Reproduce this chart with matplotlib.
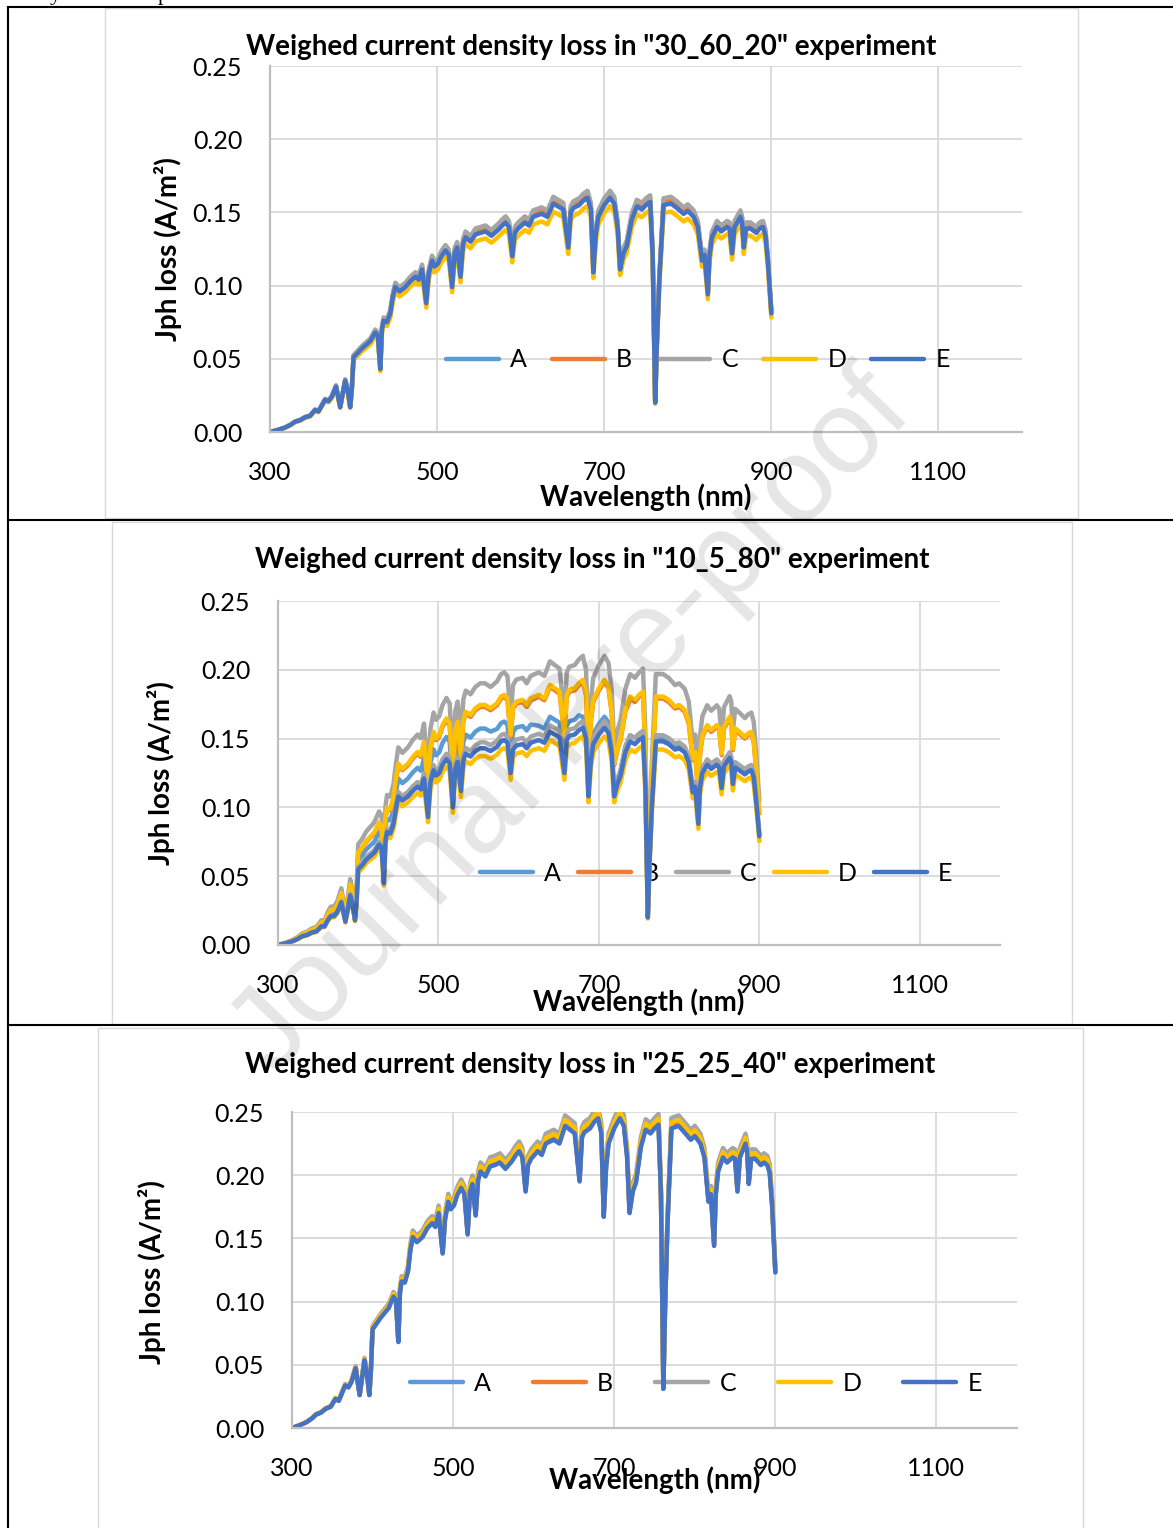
import matplotlib
matplotlib.use('Agg')
import matplotlib.pyplot as plt
import numpy as np
from matplotlib.patches import Rectangle
from matplotlib.lines import Line2D

W, H = 1173, 1528
plt.rcParams['font.family'] = ['Lato', 'DejaVu Sans']

# ---------------- data ----------------
wavelength = [300, 310, 318, 325, 330, 336, 342, 348, 354, 358,
              362, 366, 370, 374, 379, 384, 387, 390, 393, 396,
              398, 400, 405, 410, 414, 420, 426, 429, 432, 434,
              436, 440, 444, 447, 450, 455, 462, 468, 474, 478,
              482, 487, 490, 494, 497, 501, 505, 510, 514, 518,
              521, 524, 528, 531, 534, 540, 546, 552, 558, 565,
              573, 578, 582, 586, 590, 593, 597, 605, 610, 615,
              625, 632, 639, 645, 651, 657, 660, 663, 670, 675,
              680, 684, 687, 690, 693, 700, 707, 712, 716, 719,
              723, 727, 733, 739, 745, 750, 755, 758, 761, 763,
              766, 771, 780, 787, 795, 800, 807, 812, 817, 820,
              824, 826, 829, 835, 840, 847, 850, 853, 856, 863,
              865, 867, 870, 875, 882, 886, 890, 893, 896, 900]

e_30_60_20 = [0.000, 0.0015, 0.003, 0.005, 0.007, 0.008, 0.010, 0.011, 0.015, 0.014,
              0.018, 0.022, 0.021, 0.024, 0.031, 0.017, 0.026, 0.035, 0.028, 0.017,
              0.030, 0.051, 0.054, 0.057, 0.059, 0.062, 0.068, 0.066, 0.043, 0.070,
              0.076, 0.075, 0.081, 0.092, 0.099, 0.096, 0.099, 0.103, 0.106, 0.104,
              0.111, 0.088, 0.108, 0.117, 0.113, 0.115, 0.120, 0.124, 0.121, 0.099,
              0.122, 0.126, 0.106, 0.128, 0.133, 0.130, 0.135, 0.136, 0.137, 0.134,
              0.138, 0.141, 0.143, 0.140, 0.120, 0.136, 0.139, 0.143, 0.141, 0.147,
              0.149, 0.147, 0.156, 0.154, 0.152, 0.126, 0.150, 0.153, 0.155, 0.158,
              0.160, 0.152, 0.109, 0.135, 0.147, 0.155, 0.160, 0.156, 0.140, 0.111,
              0.122, 0.127, 0.145, 0.154, 0.152, 0.155, 0.157, 0.120, 0.020, 0.060,
              0.104, 0.155, 0.156, 0.153, 0.149, 0.151, 0.147, 0.140, 0.117, 0.121,
              0.094, 0.120, 0.133, 0.140, 0.137, 0.140, 0.139, 0.122, 0.140, 0.147,
              0.143, 0.126, 0.139, 0.139, 0.136, 0.139, 0.140, 0.134, 0.115, 0.081]

e_10_5_80 = [0.000, 0.0013, 0.0027, 0.0045, 0.0063, 0.0072, 0.009, 0.0099, 0.0135, 0.0135,
             0.018, 0.021, 0.021, 0.024, 0.031, 0.017, 0.026, 0.036, 0.029, 0.018,
             0.032, 0.055, 0.058, 0.062, 0.064, 0.067, 0.073, 0.071, 0.045, 0.076,
             0.082, 0.081, 0.088, 0.099, 0.108, 0.105, 0.108, 0.112, 0.115, 0.113,
             0.121, 0.093, 0.118, 0.127, 0.123, 0.125, 0.131, 0.135, 0.132, 0.100,
             0.128, 0.133, 0.112, 0.134, 0.139, 0.137, 0.141, 0.143, 0.143, 0.141,
             0.144, 0.148, 0.149, 0.147, 0.125, 0.142, 0.145, 0.146, 0.143, 0.147,
             0.149, 0.147, 0.155, 0.153, 0.151, 0.125, 0.149, 0.152, 0.153, 0.156,
             0.158, 0.150, 0.108, 0.134, 0.146, 0.153, 0.158, 0.154, 0.139, 0.108,
             0.117, 0.123, 0.140, 0.148, 0.146, 0.149, 0.151, 0.115, 0.020, 0.058,
             0.100, 0.148, 0.148, 0.146, 0.142, 0.143, 0.140, 0.133, 0.111, 0.115,
             0.088, 0.114, 0.125, 0.131, 0.128, 0.131, 0.129, 0.114, 0.130, 0.136,
             0.133, 0.117, 0.129, 0.127, 0.124, 0.126, 0.127, 0.122, 0.105, 0.079]

# series A of the "10_5_80" experiment (light blue band, merges with E above ~750 nm)
a_10_5_80 = [0.000, 0.0014, 0.0030, 0.0050, 0.0069, 0.0079, 0.0099, 0.0109, 0.0149, 0.0149,
             0.0198, 0.0231, 0.0231, 0.0264, 0.0341, 0.0187, 0.0286, 0.0396, 0.0319, 0.0198,
             0.0358, 0.0616, 0.0650, 0.0694, 0.0717, 0.0750, 0.0818, 0.0795, 0.0504, 0.0851,
             0.0918, 0.0907, 0.0986, 0.1109, 0.1210, 0.1176, 0.1210, 0.1254, 0.1288, 0.1266,
             0.1355, 0.1042, 0.1322, 0.1422, 0.1378, 0.1400, 0.1467, 0.1512, 0.1478, 0.1120,
             0.1408, 0.1463, 0.1232, 0.1474, 0.1529, 0.1507, 0.1551, 0.1573, 0.1573, 0.1551,
             0.1570, 0.1613, 0.1624, 0.1602, 0.1363, 0.1548, 0.1581, 0.1591, 0.1559, 0.1602,
             0.1594, 0.1573, 0.1659, 0.1637, 0.1616, 0.1338, 0.1594, 0.1626, 0.1637, 0.1669,
             0.1659, 0.1575, 0.1134, 0.1407, 0.1533, 0.1607, 0.1659, 0.1617, 0.1460, 0.1134,
             0.1205, 0.1267, 0.1442, 0.1524, 0.1504, 0.1535, 0.1555, 0.1185, 0.0206, 0.0597,
             0.1010, 0.1495, 0.1495, 0.1475, 0.1434, 0.1444, 0.1414, 0.1343, 0.1121, 0.1162,
             0.0889, 0.1151, 0.1263, 0.1323, 0.1293, 0.1323, 0.1303, 0.1151, 0.1313, 0.1374,
             0.1343, 0.1182, 0.1303, 0.1283, 0.1252, 0.1273, 0.1283, 0.1232, 0.1061, 0.0798]

e_25_25_40 = [0.000, 0.0023, 0.0046, 0.0077, 0.0107, 0.0122, 0.0153, 0.0168, 0.023, 0.0214,
              0.0275, 0.0337, 0.0321, 0.0367, 0.0474, 0.026, 0.0398, 0.0536, 0.0428, 0.026,
              0.046, 0.078, 0.0826, 0.0872, 0.0903, 0.0949, 0.104, 0.101, 0.068, 0.107,
              0.116, 0.115, 0.124, 0.141, 0.151, 0.147, 0.151, 0.158, 0.162, 0.159,
              0.170, 0.138, 0.165, 0.179, 0.173, 0.176, 0.184, 0.190, 0.185, 0.153,
              0.187, 0.193, 0.168, 0.196, 0.203, 0.199, 0.207, 0.208, 0.210, 0.205,
              0.211, 0.216, 0.219, 0.214, 0.187, 0.208, 0.213, 0.219, 0.216, 0.225,
              0.228, 0.225, 0.239, 0.236, 0.233, 0.195, 0.230, 0.234, 0.237, 0.242,
              0.245, 0.233, 0.167, 0.207, 0.225, 0.237, 0.245, 0.239, 0.214, 0.170,
              0.187, 0.194, 0.222, 0.236, 0.233, 0.237, 0.240, 0.184, 0.031, 0.092,
              0.159, 0.237, 0.239, 0.234, 0.228, 0.231, 0.225, 0.214, 0.179, 0.185,
              0.144, 0.184, 0.203, 0.214, 0.210, 0.214, 0.213, 0.187, 0.214, 0.225,
              0.219, 0.193, 0.213, 0.213, 0.208, 0.210, 0.208, 0.202, 0.176, 0.123]

series_names = ['A', 'B', 'C', 'D', 'E']
series_colors = ['#5B9BD5', '#ED7D31', '#A5A5A5', '#FFC000', '#4472C4']

# ratio of each series to series E
ratio_30_60_20 = [1.005, 1.02, 1.03, 0.965, 1.0]
ratio_10_5_80 = [None, 1.21, 1.33, 1.22, 1.0]      # A given explicitly above
ratio_10_5_80_extra = [1.03, 0.96]                 # unlabelled grey / yellow lines of the lower group
extra_colors = ['#A5A5A5', '#FFC000']
ratio_25_25_40 = [1.005, 1.01, 1.035, 1.02, 1.0]

titles = ['Weighed current density loss in "30_60_20" experiment',
          'Weighed current density loss in "10_5_80" experiment',
          'Weighed current density loss in "25_25_40" experiment']
x_ticks = [300, 500, 700, 900, 1100]
y_ticks = [0.00, 0.05, 0.10, 0.15, 0.20, 0.25]
x_label = 'Wavelength (nm)'
y_label = 'Jph loss (A/m²)'

# ---------------- layout (pixels) ----------------
panels = [
    dict(base=e_30_60_20, ratios=ratio_30_60_20, extra=None, explicit={},
         ax=(270, 66, 1022, 432), box=(105, 8, 1078, 518),
         title=(591, 47), xlab=(646, 497), ylab=(168, 249),
         leg=(0.569, 0.197), colsp=1.0),
    dict(base=e_10_5_80, ratios=ratio_10_5_80, extra=ratio_10_5_80_extra,
         explicit={0: a_10_5_80},
         ax=(278, 601, 1000, 945), box=(112, 522, 1072, 1024),
         title=(592, 560), xlab=(639, 1002), ylab=(161, 773),
         leg=(0.607, 0.209), colsp=0.68),
    dict(base=e_25_25_40, ratios=ratio_25_25_40, extra=None, explicit={},
         ax=(292, 1112, 1017, 1428), box=(98, 1028, 1083, 1540),
         title=(590, 1065), xlab=(655, 1480), ylab=(152, 1272),
         leg=(0.557, 0.142), colsp=1.68),
]

fig = plt.figure(figsize=(W / 100, H / 100), dpi=100)
fig.patch.set_facecolor('white')


def fx(px):
    return px / W


def fy(py):
    return 1 - py / H


FS = 18
FS_B = 20
LW = 3.2

for idx, p in enumerate(panels):
    bl, bt, br, bb = p['box']
    fig.add_artist(Rectangle((fx(bl), fy(bb)), (br - bl) / W, (bb - bt) / H,
                             transform=fig.transFigure, fill=False,
                             edgecolor='#d9d9d9', lw=1.0, zorder=0))
    l, t, r, b = p['ax']
    ax = fig.add_axes([fx(l), fy(b), (r - l) / W, (b - t) / H])
    ax.set_facecolor('none')
    base = np.array(p['base'])
    wl = np.array(wavelength)

    def values(i):
        if i in p['explicit']:
            return np.array(p['explicit'][i])
        return base * p['ratios'][i]

    handles = []
    for i in range(4):
        ln, = ax.plot(wl, values(i), color=series_colors[i], lw=LW, label=series_names[i],
                      solid_joinstyle='round', solid_capstyle='round', zorder=2)
        handles.append(ln)
    if p['extra'] is not None:
        for col, k in zip(extra_colors, p['extra']):
            ax.plot(wl, base * k, color=col, lw=LW, label='_nolegend_',
                    solid_joinstyle='round', zorder=2)
    ln, = ax.plot(wl, values(4), color=series_colors[4], lw=LW, label='E',
                  solid_joinstyle='round', solid_capstyle='round', zorder=2)
    handles.append(ln)

    ax.set_xlim(300, 1200)
    ax.set_ylim(0, 0.25)
    ax.set_xticks(x_ticks)
    ax.set_yticks(y_ticks)
    ax.set_yticklabels([f'{v:.2f}' for v in y_ticks])
    ax.grid(True, color='#d9d9d9', lw=1.3)
    ax.set_axisbelow(True)
    for s in ['top', 'right']:
        ax.spines[s].set_visible(False)
    for s in ['left', 'bottom']:
        ax.spines[s].set_color('#bfbfbf')
        ax.spines[s].set_linewidth(1.6)
    ax.tick_params(axis='both', length=0, labelsize=FS, colors='black')
    ax.tick_params(axis='y', pad=20)
    ax.tick_params(axis='x', pad=21)

    leg = ax.legend(handles=handles, labels=series_names, loc='center',
                    bbox_to_anchor=p['leg'], ncol=5, frameon=False, fontsize=FS,
                    handlelength=2.12, handletextpad=0.45, columnspacing=p['colsp'],
                    borderaxespad=0, borderpad=0)
    leg.set_zorder(1.9)

    tx, ty = p['title']
    fig.text(fx(tx), fy(ty), titles[idx], ha='center', va='center',
             fontsize=FS_B, fontweight='bold')
    xx, xy = p['xlab']
    fig.text(fx(xx), fy(xy), x_label, ha='center', va='center', fontsize=FS_B,
             fontweight='bold')
    yx, yy = p['ylab']
    fig.text(fx(yx), fy(yy), y_label, ha='center', va='center', fontsize=FS_B,
             fontweight='bold', rotation=90)

# table borders of the document
for (x0, y0, x1, y1) in [(8, 7, 8, H), (8, 7, W, 7), (8, 520, W, 520), (8, 1025, W, 1025)]:
    fig.add_artist(Line2D([fx(x0), fx(x1)], [fy(y0), fy(y1)], transform=fig.transFigure,
                          color='black', lw=1.5, zorder=5))

# clipped text from the line above (cut off at the top edge, as in the reference)
fig.text(fx(50), 1.0, 'y', fontsize=16, family='Liberation Serif', va='baseline')
fig.text(fx(158), 1.0, 'p', fontsize=16, family='Liberation Serif', va='baseline')

# watermark
fig.text(fx(572), fy(725), 'Journal Pre-proof', rotation=46, fontsize=86, color='black',
         alpha=0.10, ha='center', va='center', family='Liberation Sans', zorder=10)

fig.savefig('out.png', dpi=100, facecolor='white')
